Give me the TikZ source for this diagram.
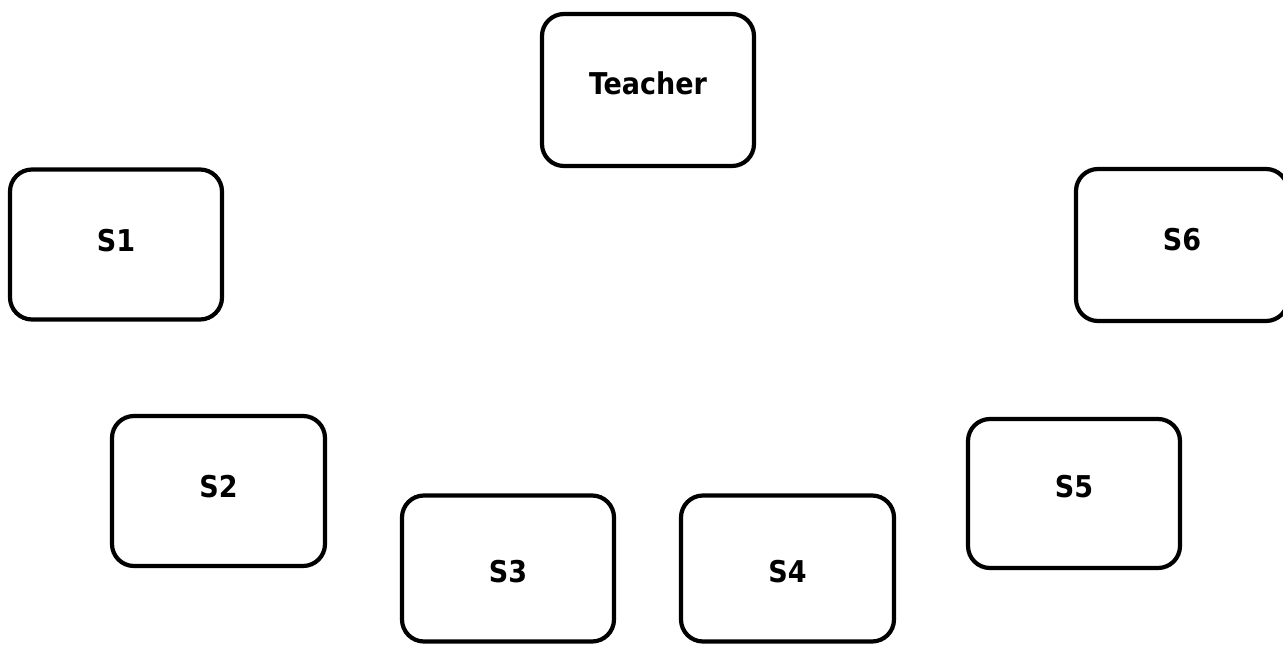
\documentclass[tikz,border=0pt]{standalone}
\usepackage{fontspec}
\setmainfont{DejaVu Sans Condensed}
\begin{document}
\begin{tikzpicture}[x=1pt,y=-1pt,
  box/.style={draw, line width=4.2pt, rounded corners=22pt, fill=white, inner sep=0pt,
    minimum width=212pt, minimum height=150pt},
  lab/.style={font=\fontsize{30}{34}\selectfont\bfseries, text height=21.9pt, text depth=0pt, inner sep=0pt},
]
\useasboundingbox[fill=white] (0,0) rectangle (1283,645);
\node[box, minimum height=152pt, label={[lab, yshift=6pt]center:Teacher}] (teacher) at (648,90) {};
\node[box, minimum height=150pt, label={[lab, yshift=4pt]center:S1}] (s1) at (116,244.5) {};
\node[box, minimum height=152pt, label={[lab, yshift=5pt]center:S6}] (s6) at (1182,245) {};
\node[box, minimum width=213pt, minimum height=150pt, label={[lab, yshift=4pt]center:S2}] (s2) at (218.5,491) {};
\node[box, minimum height=149pt, label={[lab, yshift=6.5pt]center:S5}] (s5) at (1074,493.5) {};
\node[box, minimum height=146pt, label={[lab, yshift=-3.5pt]center:S3}] (s3) at (508,568.5) {};
\node[box, minimum width=213pt, minimum height=146pt, label={[lab, yshift=-3.5pt]center:S4}] (s4) at (787.5,568.5) {};
\end{tikzpicture}
\end{document}
